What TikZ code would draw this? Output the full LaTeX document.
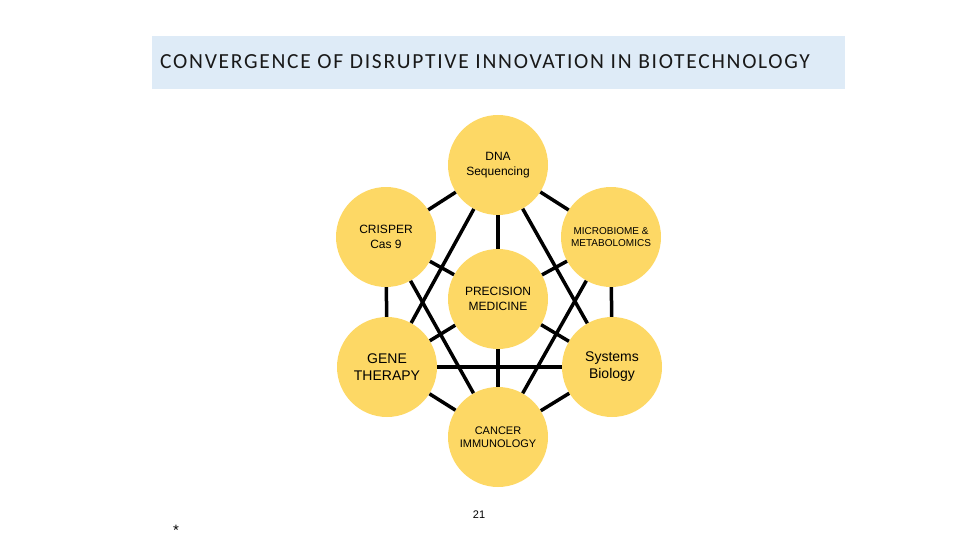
\documentclass[tikz,border=0pt]{standalone}
\usepackage{fontspec}
\setmainfont{Liberation Sans}
\newfontfamily\titlefont[LetterSpace=8]{Carlito}
\usepackage{xcolor}
\definecolor{gold}{HTML}{FDD865}
\definecolor{paleblue}{HTML}{DEEBF7}

\begin{document}
\begin{tikzpicture}[x=1pt, y=-1pt,
		topic/.style={draw=none, circle, fill=gold, minimum size=100pt, inner sep=0pt, align=center},
		link/.style={line width=3.5pt, black}]
		\useasboundingbox (0,0) rectangle (960,540);
		\node[fill=paleblue, minimum width=693pt, minimum height=53pt, anchor=north west] (banner) at (152,36) {};
		\node[anchor=west, inner sep=0pt, font=\titlefont\fontsize{21.5}{25}\selectfont, text=black!90] (title) at (160,62) {CONVERGENCE OF DISRUPTIVE INNOVATION IN BIOTECHNOLOGY};
		
		\node[topic, font=\fontsize{12}{15}\selectfont] (dna) at (498,165) {DNA\\Sequencing};
		\node[topic, font=\fontsize{12}{15}\selectfont] (crisper) at (386,237) {CRISPER\\Cas 9};
		\node[topic, font=\fontsize{10}{12}\selectfont] (microbiome) at (611,237) {MICROBIOME \&\\METABOLOMICS};
		\node[topic, font=\fontsize{12}{15}\selectfont] (precision) at (498,299) {PRECISION\\MEDICINE};
		\node[topic, font=\fontsize{14}{17}\selectfont] (gene) at (387,367) {GENE\\THERAPY};
		\node[topic, font=\fontsize{14}{17}\selectfont] (systems) at (612,367) {Systems\\Biology};
		\node[topic, font=\fontsize{11}{13}\selectfont] (cancer) at (498,437) {CANCER\\IMMUNOLOGY};
		
		\draw[link] (dna) -- (crisper);
		\draw[link] (dna) -- (microbiome);
		\draw[link] (dna) -- (precision);
		\draw[link] (dna) -- (gene);
		\draw[link] (dna) -- (systems);
		\draw[link] (crisper) -- (precision);
		\draw[link] (crisper) -- (gene);
		\draw[link] (crisper) -- (cancer);
		\draw[link] (microbiome) -- (precision);
		\draw[link] (microbiome) -- (systems);
		\draw[link] (microbiome) -- (cancer);
		\draw[link] (precision) -- (gene);
		\draw[link] (precision) -- (systems);
		\draw[link] (precision) -- (cancer);
		\draw[link] (gene) -- (systems);
		\draw[link] (gene) -- (cancer);
		\draw[link] (systems) -- (cancer);
		
		\node[font=\fontsize{11}{13}\selectfont] (pagenum) at (479,515) {21};
		\node[font=\fontsize{15}{17}\selectfont] (star) at (176,530) {*};
	\end{tikzpicture}
\end{document}
